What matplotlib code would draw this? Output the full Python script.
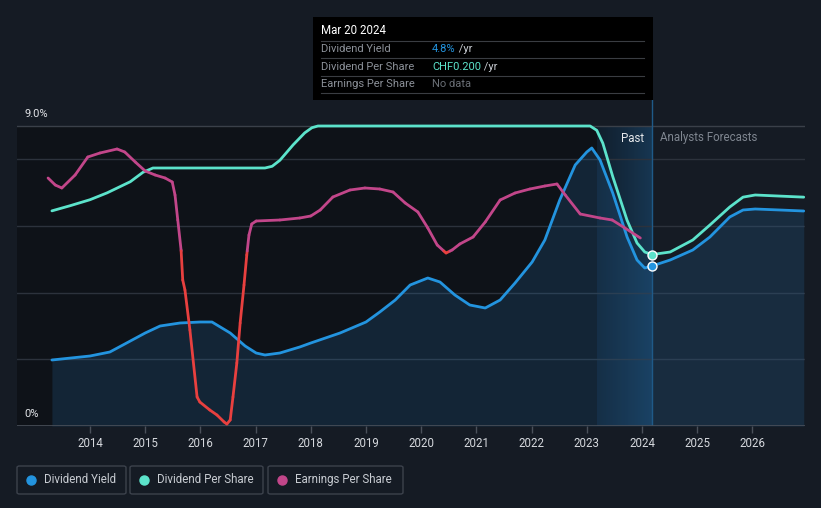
import numpy as np
import matplotlib
matplotlib.use("Agg")
import matplotlib.pyplot as plt
from matplotlib.collections import LineCollection
from matplotlib.patches import Rectangle, FancyBboxPatch
from matplotlib.colors import LinearSegmentedColormap, to_rgba

plt.rcParams['font.family'] = ['Roboto', 'DejaVu Sans']

# ---------------- data ----------------
yield_years = [2013.31, 2014.0, 2014.36, 2014.63, 2015.0, 2015.27, 2015.63, 2016.0, 2016.21,
               2016.54, 2016.81, 2017.01, 2017.17, 2017.44, 2017.80, 2018.0, 2018.53, 2019.0,
               2019.25, 2019.53, 2019.80, 2020.12, 2020.34, 2020.61, 2020.88, 2021.16, 2021.43,
               2021.70, 2022.01, 2022.24, 2022.51, 2022.79, 2023.0, 2023.09, 2023.24, 2023.47,
               2023.73, 2023.91, 2024.05, 2024.18, 2024.51, 2024.92, 2025.23, 2025.59, 2025.83,
               2026.05, 2026.5, 2026.93]
yield_vals = [1.98, 2.10, 2.22, 2.46, 2.79, 3.00, 3.09, 3.12, 3.12,
              2.79, 2.40, 2.19, 2.13, 2.19, 2.37, 2.49, 2.79, 3.12,
              3.42, 3.78, 4.23, 4.44, 4.32, 3.93, 3.63, 3.54, 3.78,
              4.29, 4.92, 5.58, 6.78, 7.83, 8.22, 8.34, 7.98, 6.99,
              5.67, 4.98, 4.74, 4.80, 4.98, 5.28, 5.67, 6.27, 6.48,
              6.51, 6.48, 6.45]

dps_years = [2013.31, 2013.64, 2014.0, 2014.31, 2014.73, 2014.96, 2015.14, 2016.0, 2017.17,
             2017.30, 2017.44, 2017.68, 2017.89, 2018.02, 2018.13, 2023.06, 2023.18, 2023.29,
             2023.47, 2023.73, 2023.91, 2024.05, 2024.18, 2024.51, 2024.92, 2025.23, 2025.59,
             2025.83, 2026.05, 2026.93]
dps_vals = [0.251, 0.257, 0.264, 0.272, 0.285, 0.296, 0.301, 0.301, 0.301,
            0.303, 0.310, 0.328, 0.342, 0.348, 0.350, 0.350, 0.345, 0.330,
            0.291, 0.240, 0.2135, 0.203, 0.200, 0.203, 0.217, 0.2345, 0.2555,
            0.267, 0.2695, 0.267]

eps_years = [2013.24, 2013.37, 2013.49, 2013.73, 2013.96, 2014.18, 2014.49, 2014.63, 2014.82,
             2015.0, 2015.18, 2015.36, 2015.49, 2015.54, 2015.59, 2015.65, 2015.68, 2015.72,
             2015.81, 2015.94, 2015.99, 2016.17, 2016.30, 2016.43, 2016.48, 2016.54, 2016.59,
             2016.66, 2016.72, 2016.79, 2016.84, 2016.88, 2016.93, 2017.01, 2017.44, 2017.80,
             2018.0, 2018.17, 2018.40, 2018.71, 2018.98, 2019.25, 2019.49, 2019.71, 2019.94,
             2020.12, 2020.29, 2020.45, 2020.56, 2020.70, 2020.94, 2021.16, 2021.43, 2021.70,
             2021.97, 2022.24, 2022.46, 2022.61, 2022.88, 2023.24, 2023.46, 2023.69, 2023.97]
eps_vals = [0.73, 0.66, 0.63, 0.76, 0.94, 0.98, 1.02, 0.99, 0.89,
            0.80, 0.76, 0.73, 0.69, 0.56, 0.31, 0.01, -0.29, -0.39,
            -0.79, -1.46, -1.51, -1.59, -1.64, -1.71, -1.73, -1.69, -1.46,
            -1.12, -0.72, -0.34, -0.04, 0.16, 0.27, 0.30, 0.31, 0.33,
            0.35, 0.41, 0.54, 0.61, 0.63, 0.62, 0.59, 0.48, 0.39,
            0.23, 0.06, -0.02, 0.01, 0.07, 0.14, 0.29, 0.51, 0.58,
            0.62, 0.65, 0.67, 0.56, 0.37, 0.33, 0.31, 0.23, 0.13]

tick_years = list(range(2014, 2027))
now_year = 2024.18
band_start = 2023.18

# ---------------- style ----------------
BG = '#151b24'
PAST_BG = '#0e1218'
BLUE = '#2394df'
CYAN = '#5ce3cb'
PINK = '#c2468a'
RED = '#e8403f'
GRID = '#2c323c'

W, H = 821, 508
fig = plt.figure(figsize=(W / 100, H / 100), dpi=100, facecolor=BG)

def fx(px):
    return px / W

def fy(py):
    return 1 - py / H

ax_left, ax_right, ax_top, ax_bot = 17, 805, 100, 426
ax = fig.add_axes([fx(ax_left), fy(ax_bot), (ax_right - ax_left) / W, (ax_bot - ax_top) / H])
ax.set_facecolor(BG)
xmin = 2014 + (ax_left - 90) / 55.2
xmax = 2014 + (ax_right - 90) / 55.2
ax.set_xlim(xmin, xmax)
ymax = 9.0 * (ax_bot - ax_top) / 300.0
ax.set_ylim(0, ymax)
for s in ax.spines.values():
    s.set_visible(False)

# past darker region
ax.add_patch(Rectangle((xmin, 0), now_year - xmin, 9.0, facecolor=PAST_BG, edgecolor='none', zorder=0))

# highlighted band with gradient
grad = np.linspace(0, 1, 256).reshape(1, -1)
cmap = LinearSegmentedColormap.from_list('band', [to_rgba('#1c4d78', 0.22), to_rgba('#1f5684', 0.55)])
ax.imshow(grad, extent=[band_start, now_year, 0, 9.0], aspect='auto', cmap=cmap, zorder=0.5,
          interpolation='bicubic')

# gridlines
for g in [2, 4, 6, 8, 9]:
    ax.axhline(g, color=GRID if g != 9 else '#3a4049', lw=1, zorder=1)

# fill under yield
ax.fill_between(yield_years, yield_vals, 0, color='#2a78b8', alpha=0.19, lw=0, zorder=1.5)

# vertical now line
ax.axvline(now_year, color='#1f5a88', lw=1, zorder=2)

# axis line & ticks
ax.axhline(0, color='#4a505a', lw=1.2, zorder=3)
ax.set_yticks([])
ax.set_xticks(tick_years)
ax.set_xticklabels([str(t) for t in tick_years], color='#d5d8dd', fontsize=8.3)
ax.tick_params(axis='x', length=5, color='#4a505a', pad=3, width=1)

# yield line
ax.plot(yield_years, yield_vals, color=BLUE, lw=2, zorder=4, solid_capstyle='round',
        solid_joinstyle='round')

# DPS twin
ax2 = ax.twinx()
ax2.set_ylim(0, 0.35 * (ax_bot - ax_top) / 300.0)
ax2.patch.set_visible(False)
ax2.set_yticks([])
for s in ax2.spines.values():
    s.set_visible(False)
ax2.plot(dps_years, dps_vals, color=CYAN, lw=2, zorder=4, solid_capstyle='round',
         solid_joinstyle='round')

# EPS twin
ax3 = ax.twinx()
k = 0.01
ax3.set_ylim(-(ax_bot - 251) * k, (251 - ax_top) * k)
ax3.patch.set_visible(False)
ax3.set_yticks([])
for s in ax3.spines.values():
    s.set_visible(False)

segs, cols = [], []
ex, ev = eps_years, eps_vals
for i in range(len(ex) - 1):
    x0, y0, x1, y1 = ex[i], ev[i], ex[i + 1], ev[i + 1]
    if (y0 < 0) == (y1 < 0):
        segs.append([(x0, y0), (x1, y1)])
        cols.append(RED if y0 < 0 else PINK)
    else:
        t = y0 / (y0 - y1)
        xc = x0 + t * (x1 - x0)
        segs.append([(x0, y0), (xc, 0)])
        cols.append(RED if y0 < 0 else PINK)
        segs.append([(xc, 0), (x1, y1)])
        cols.append(RED if y1 < 0 else PINK)
lc = LineCollection(segs, colors=cols, linewidths=2, capstyle='round', joinstyle='round', zorder=4)
ax3.add_collection(lc)

# dots at now
ax.scatter([now_year], [yield_vals[yield_years.index(now_year)]], s=42, color=BLUE,
           edgecolor='white', linewidth=1, zorder=6, clip_on=False)
ax2.scatter([now_year], [dps_vals[dps_years.index(now_year)]], s=42, color=CYAN,
            edgecolor='white', linewidth=1, zorder=6, clip_on=False)

# y labels
fig.text(fx(24), fy(114), '9.0%', color='#e2e4e8', fontsize=8, va='center', ha='left')
fig.text(fx(24), fy(414), '0%', color='#e2e4e8', fontsize=8, va='center', ha='left')

# Past / forecasts labels
fig.text(fx(644), fy(138), 'Past', color='#e6e8eb', fontsize=8.3, va='center', ha='right')
fig.text(fx(660), fy(138), 'Analysts Forecasts', color='#7f8690', fontsize=8.3, va='center', ha='left')

# tooltip
fig.patches.append(Rectangle((fx(313), fy(100)), (653 - 313) / W, (100 - 17) / H,
                             transform=fig.transFigure, facecolor='black', edgecolor='none', zorder=10))
fig.text(fx(321), fy(31), 'Mar 20 2024', color='white', fontsize=8.3, va='center', ha='left', zorder=11)
for ly in [41, 58, 75.5, 93]:
    fig.add_artist(plt.Line2D([fx(321), fx(644)], [fy(ly), fy(ly)], transform=fig.transFigure,
                              color='#3a3d42', lw=0.8, zorder=11))
rows = [('Dividend Yield', '4.8%', BLUE, ' /yr'),
        ('Dividend Per Share', 'CHF0.200', CYAN, ' /yr'),
        ('Earnings Per Share', 'No data', '#6a6f76', '')]
row_y = [49.5, 66.5, 84]
renderer = fig.canvas.get_renderer()
for (lab, val, vc, suf), ry in zip(rows, row_y):
    fig.text(fx(321), fy(ry), lab, color='#8c9199', fontsize=8, va='center', ha='left', zorder=11)
    t = fig.text(fx(432), fy(ry), val, color=vc, fontsize=8, va='center', ha='left', zorder=11)
    if suf:
        bb = t.get_window_extent(renderer=renderer)
        fig.text(bb.x1 / W, fy(ry), suf, color='#c8ccd2', fontsize=8, va='center', ha='left', zorder=11)

# legend
legend_items = [('Dividend Yield', BLUE, 17, 126), ('Dividend Per Share', CYAN, 130, 263),
                ('Earnings Per Share', PINK, 268, 403)]
for lab, c, x0, x1 in legend_items:
    fig.patches.append(FancyBboxPatch((fx(x0), fy(494)), (x1 - x0) / W, (494 - 466) / H,
                                      boxstyle='round,pad=0,rounding_size=0.003',
                                      transform=fig.transFigure, facecolor=BG,
                                      edgecolor='#3c424c', lw=1))
    fig.add_artist(plt.Line2D([fx(x0 + 14)], [fy(479.5)], marker='o', markersize=6.5,
                              color=c, transform=fig.transFigure, lw=0))
    fig.text(fx(x0 + 27), fy(479.5), lab, color='#c8ccd2', fontsize=8.3, va='center', ha='left')

fig.savefig('out.png', dpi=100, facecolor=BG)
